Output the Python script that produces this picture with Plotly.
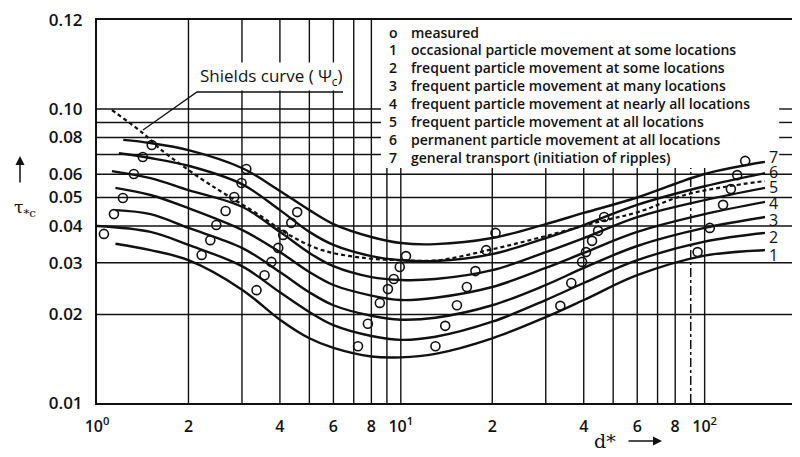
import math
import plotly.graph_objects as go

# ---------------- data ----------------
d_c1 = [1.15, 1.5, 2, 3, 4, 5, 6, 8, 10, 13, 20, 30, 40, 60, 100, 158]
v_c1 = [0.0348, 0.0331, 0.0306, 0.0243, 0.0192, 0.0166, 0.0154, 0.0144, 0.0143, 0.0147, 0.0166, 0.0196, 0.0224, 0.0272, 0.0317, 0.0331]

d_c2 = [1.0, 1.5, 2, 3, 4, 5, 6, 8, 10, 13, 20, 30, 40, 60, 100, 158]
v_c2 = [0.0400, 0.0382, 0.0345, 0.0292, 0.0238, 0.0204, 0.0184, 0.0169, 0.0164, 0.0168, 0.0189, 0.0224, 0.0256, 0.0306, 0.0354, 0.0379]

d_c3 = [1.15, 1.5, 2, 3, 4, 5, 6, 8, 10, 13, 20, 30, 40, 60, 100, 158]
v_c3 = [0.0453, 0.0439, 0.0394, 0.0337, 0.0279, 0.0238, 0.0215, 0.0198, 0.0192, 0.0195, 0.0215, 0.0252, 0.0288, 0.0342, 0.0394, 0.0429]

d_c4 = [1.15, 1.5, 2, 3, 4, 5, 6, 8, 10, 13, 20, 30, 40, 60, 100, 158]
v_c4 = [0.0539, 0.0510, 0.0460, 0.0388, 0.0326, 0.0279, 0.0252, 0.0232, 0.0224, 0.0228, 0.0248, 0.0288, 0.0324, 0.0382, 0.0439, 0.0483]

d_c5 = [1.12, 1.5, 2, 3, 4, 5, 6, 8, 10, 13, 20, 30, 40, 60, 100, 158]
v_c5 = [0.0615, 0.0582, 0.0530, 0.0465, 0.0382, 0.0324, 0.0292, 0.0268, 0.0262, 0.0264, 0.0283, 0.0326, 0.0364, 0.0429, 0.0490, 0.0539]

d_c6 = [1.18, 1.5, 2, 3, 4, 5, 6, 8, 10, 13, 20, 30, 40, 60, 100, 158]
v_c6 = [0.0707, 0.0681, 0.0641, 0.0555, 0.0453, 0.0382, 0.0345, 0.0316, 0.0306, 0.0304, 0.0321, 0.0364, 0.0403, 0.0472, 0.0546, 0.0605]

d_c7 = [1.22, 1.5, 2, 3, 4, 5, 6, 8, 10, 13, 20, 30, 40, 60, 100, 158]
v_c7 = [0.0785, 0.0766, 0.0725, 0.0630, 0.0526, 0.0453, 0.0406, 0.0367, 0.0350, 0.0347, 0.0364, 0.0406, 0.0443, 0.0500, 0.0601, 0.0661]

d_shields = [1.12, 1.415, 1.63, 2.18, 2.67, 3.42, 4.29, 5.51, 7.67, 10.1, 13.3, 19.4, 28.3, 44.6, 60.3, 86, 116, 158]
v_shields = [0.0992, 0.0828, 0.0725, 0.0583, 0.0510, 0.0436, 0.0373, 0.0331, 0.0311, 0.0306, 0.0306, 0.0331, 0.0364, 0.0413, 0.0446, 0.0510, 0.0543, 0.0569]

meas_d = [1.514, 1.415, 1.322, 1.217, 1.137, 1.054,
          3.10, 2.99, 2.83, 2.65, 2.47, 2.36, 2.21,
          4.56, 4.36, 4.10, 3.95, 3.75, 3.56, 3.35,
          10.4, 9.92, 9.48, 9.07, 8.53, 7.79, 7.23,
          20.5, 19.1, 17.6, 16.5, 15.3, 14.0, 13.0,
          46.7, 44.6, 42.6, 40.7, 39.5, 36.4, 33.5,
          136, 128, 122, 115, 104, 94.8]
meas_v = [0.0754, 0.0687, 0.0601, 0.0498, 0.0439, 0.0376,
          0.0625, 0.0560, 0.0502, 0.0450, 0.0403, 0.0358, 0.0319,
          0.0446, 0.0410, 0.0373, 0.0337, 0.0302, 0.0272, 0.0242,
          0.0316, 0.0290, 0.0264, 0.0244, 0.0219, 0.0186, 0.0156,
          0.0379, 0.0331, 0.0281, 0.0248, 0.0215, 0.0183, 0.0156,
          0.0429, 0.0385, 0.0356, 0.0326, 0.0302, 0.0256, 0.0214,
          0.0666, 0.0596, 0.0534, 0.0472, 0.0394, 0.0326]

curve_names = ["1", "2", "3", "4", "5", "6", "7"]
legend_keys = ["o", "1", "2", "3", "4", "5", "6", "7"]
legend_texts = ["measured",
                "occasional particle movement at some locations",
                "frequent particle movement at some locations",
                "frequent particle movement at many locations",
                "frequent particle movement at nearly all locations",
                "frequent particle movement at all locations",
                "permanent particle movement at all locations",
                "general transport (initiation of ripples)"]

x_tickvals = [1, 2, 4, 6, 8, 10, 20, 40, 60, 80, 100, 200]
x_ticktext = ["10<sup>0</sup>", "2", "4", "6", "8", "10<sup>1</sup>",
              "2", "4", "6", "8", "10<sup>2</sup>", "2"]
x_gridvals = [2, 3, 4, 5, 6, 7, 8, 9, 10, 20, 30, 40, 50, 60, 70, 80, 100]
x_dashdot_val = 90
y_tickvals = [0.01, 0.02, 0.03, 0.04, 0.05, 0.06, 0.08, 0.10, 0.2]
y_ticktext = ["0.01", "0.02", "0.03", "0.04", "0.05", "0.06", "0.08", "0.10", "0.12"]
y_gridvals = [0.02, 0.03, 0.04, 0.05, 0.06, 0.07, 0.08, 0.09, 0.10]

# legend area (grid is interrupted there), in axis units
LEG_X0, LEG_X1, LEG_Y0 = 8.6, 176, 0.063
# vertical nudges (px) of the end labels 1..7
label_yshift = [-5, -4, -3, -1, 1, 1, 5]

# ---------------- figure ----------------
# the page body has an 8px margin, so the figure is drawn 8px smaller
OFF = 8
W, H = 800 - OFF, 457 - OFF
ML, MR, MT, MB = 97 - OFF, 3, 20 - OFF, 54
PW, PH = W - ML - MR, H - MT - MB
X_MIN, X_MAX = 1, 200
Y_MIN, Y_TOP = 0.01, 10 ** (-2 + PH / 294.0)


def px(xp):  # window pixel -> paper
    return (xp - OFF - ML) / PW


def py(yp):
    return (H - MB - (yp - OFF)) / PH


INK = "#111111"
FONT = "Open Sans"

fig = go.Figure()

shapes = []
gl = dict(color=INK, width=1.4)
for yv in y_gridvals:
    segs = [(X_MIN, LEG_X0), (LEG_X1, X_MAX)] if yv > LEG_Y0 else [(X_MIN, X_MAX)]
    for a, b in segs:
        shapes.append(dict(type="line", xref="x", yref="y", x0=a, x1=b, y0=yv, y1=yv,
                           line=gl, layer="below"))
for xv in x_gridvals:
    top = LEG_Y0 if LEG_X0 < xv < LEG_X1 else Y_TOP
    shapes.append(dict(type="line", xref="x", yref="y", x0=xv, x1=xv, y0=Y_MIN, y1=top,
                       line=gl, layer="below"))
shapes.append(dict(type="line", xref="x", yref="y", x0=x_dashdot_val, x1=x_dashdot_val,
                   y0=Y_MIN, y1=LEG_Y0, line=dict(color=INK, width=1.5, dash="dashdot"),
                   layer="below"))
shapes.append(dict(type="path", xref="paper", yref="paper",
                   path=f"M {px(343)} {py(92)} L {px(197)} {py(92)} L {px(143)} {py(130)}",
                   line=dict(color=INK, width=1.3)))
fig.update_layout(shapes=shapes)

curves = [(d_c1, v_c1), (d_c2, v_c2), (d_c3, v_c3), (d_c4, v_c4),
          (d_c5, v_c5), (d_c6, v_c6), (d_c7, v_c7)]
for (dd, vv), name, ys in zip(curves, curve_names, label_yshift):
    fig.add_trace(go.Scatter(x=dd, y=vv, mode="lines", name=name,
                             line=dict(color=INK, width=2.4, shape="spline", smoothing=1.0),
                             hoverinfo="skip"))
    fig.add_annotation(x=math.log10(dd[-1]), y=math.log10(vv[-1]), text=name,
                       showarrow=False, xanchor="left", yanchor="middle", xshift=2, yshift=ys,
                       font=dict(family=FONT, size=16, color=INK))

fig.add_trace(go.Scatter(x=d_shields, y=v_shields, mode="lines", name="Shields",
                         line=dict(color=INK, width=2.2, dash="4px,3px", shape="spline"),
                         hoverinfo="skip"))

fig.add_trace(go.Scatter(x=meas_d, y=meas_v, mode="markers", name="measured",
                         marker=dict(symbol="circle-open", size=9, color=INK,
                                     line=dict(width=1.6, color=INK)),
                         hoverinfo="skip"))

fig.add_annotation(xref="paper", yref="paper", x=px(271), y=py(77),
                   text="Shields curve ( Ψ<sub>c</sub>)", showarrow=False,
                   xanchor="center", yanchor="middle", bgcolor="white",
                   font=dict(family=FONT, size=17, color=INK))

for i, (k, t) in enumerate(zip(legend_keys, legend_texts)):
    yy = py(32 + i * 17.9)
    fig.add_annotation(xref="paper", yref="paper", x=px(393), y=yy, text=k,
                       showarrow=False, xanchor="center", yanchor="middle",
                       font=dict(family=FONT, size=14, color=INK, weight=600))
    fig.add_annotation(xref="paper", yref="paper", x=px(409), y=yy, text=t,
                       showarrow=False, xanchor="left", yanchor="middle",
                       font=dict(family=FONT, size=14, color=INK, weight=600))

fig.add_annotation(xref="paper", yref="paper", x=px(25), y=py(208),
                   text="τ<sub>*c</sub>", showarrow=False, xanchor="center", yanchor="middle",
                   font=dict(family="DejaVu Serif", size=17, color=INK))
fig.add_annotation(xref="paper", yref="paper", x=px(20), y=py(156), text="",
                   showarrow=True, ax=0, ay=28, arrowhead=2, arrowsize=1.2,
                   arrowwidth=1.5, arrowcolor=INK)
fig.add_annotation(xref="paper", yref="paper", x=px(605), y=py(441),
                   text="d*", showarrow=False, xanchor="center", yanchor="middle",
                   font=dict(family="DejaVu Serif", size=19, color=INK))
fig.add_annotation(xref="paper", yref="paper", x=px(662), y=py(441), text="",
                   showarrow=True, ax=-35, ay=0, arrowhead=2, arrowsize=1.2,
                   arrowwidth=1.5, arrowcolor=INK)

fig.update_xaxes(type="log", range=[0, math.log10(X_MAX) + 0.003], automargin=False,
                 tickmode="array", tickvals=x_tickvals, ticktext=x_ticktext,
                 showgrid=False, showline=True, linecolor=INK, linewidth=2, mirror=True,
                 ticks="", ticklabelstandoff=8, zeroline=False,
                 tickfont=dict(family=FONT, size=16, color=INK, weight=600))
fig.update_yaxes(type="log", range=[-2, math.log10(Y_TOP)], automargin=False,
                 tickmode="array", tickvals=y_tickvals, ticktext=y_ticktext,
                 showgrid=False, showline=True, linecolor=INK, linewidth=2, mirror=True,
                 ticks="", ticklabelstandoff=9, zeroline=False,
                 tickfont=dict(family=FONT, size=17, color=INK, weight=600))

fig.update_layout(width=W, height=H, margin=dict(l=ML, r=MR, t=MT, b=MB),
                  paper_bgcolor="white", plot_bgcolor="white", showlegend=False)

fig.write_html("out.html")
